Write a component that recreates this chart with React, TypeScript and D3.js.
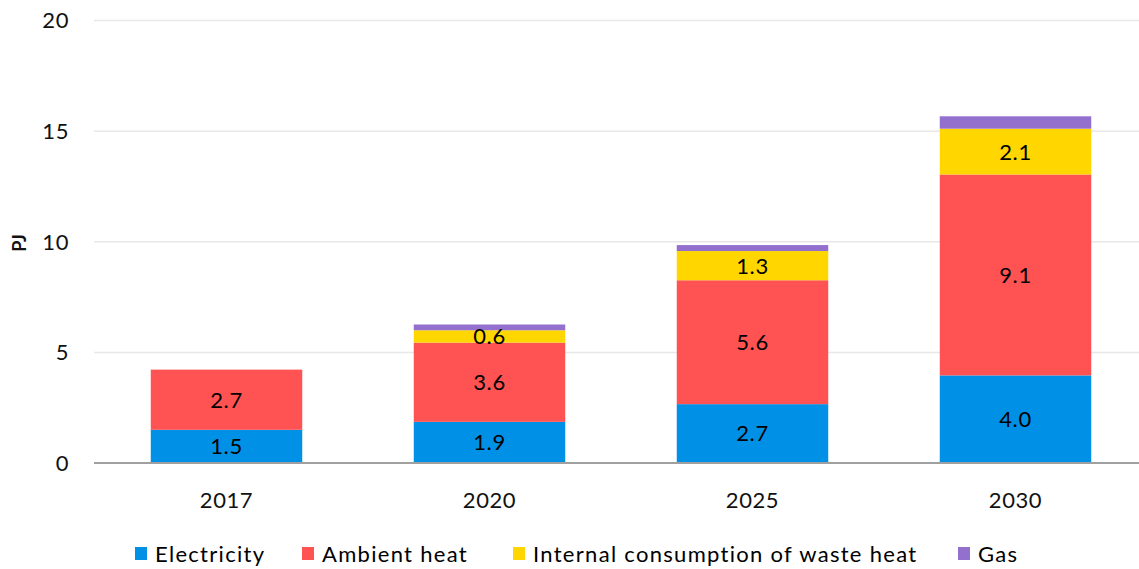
import React from "react";
import * as d3 from "d3";

const years = ["2017", "2020", "2025", "2030"];
const seriesNames = ["Electricity", "Ambient heat", "Internal consumption of waste heat", "Gas"];
const electricity = [1.5, 1.86, 2.66, 3.96];
const ambientHeat = [2.72, 3.58, 5.6, 9.08];
const wasteHeat = [0, 0.56, 1.32, 2.07];
const gas = [0, 0.26, 0.27, 0.56];
const colors = ["#0091E6", "#FF5252", "#FFD600", "#9370CD"];
const yTicks = [0, 5, 10, 15, 20];
const labelSeries = [true, true, true, false];

const W = 1139;
const H = 569;
const FONT = "Lato, 'Open Sans', sans-serif";

export default function App() {
  const rows = years.map((y, i) => ({
    year: y,
    Electricity: electricity[i],
    "Ambient heat": ambientHeat[i],
    "Internal consumption of waste heat": wasteHeat[i],
    Gas: gas[i],
  }));
  const stack = d3.stack<any>().keys(seriesNames)(rows);
  const x = d3.scaleBand().domain(years).range([95, 1147]).paddingInner(0.424).paddingOuter(0.212);
  const y = d3.scaleLinear().domain([0, 20]).range([463, 20.5]);
  const legendX = [135, 302, 513, 958];

  return (
    <svg width={W} height={H} style={{ position: "absolute", left: 0, top: 0, fontFamily: FONT }}>
      <rect width={W} height={H} fill="#fff" />
      {yTicks.map((t) => (
        <g key={t}>
          {t > 0 && <line x1={94} x2={W} y1={y(t)} y2={y(t)} stroke="#E8E8E8" strokeWidth={1.5} />}
          <text x={69} y={y(t)} dy="0.36em" textAnchor="end" fontSize={22} letterSpacing={0.6} fill="#111">{t}</text>
        </g>
      ))}
      {stack.map((s, si) =>
        s.map((d, i) => {
          const h = y(d[0]) - y(d[1]);
          if (h <= 0) return null;
          return (
            <rect key={si + "-" + i} x={x(years[i])} width={x.bandwidth()} y={y(d[1])} height={h} fill={colors[si]} />
          );
        })
      )}
      {stack.map((s, si) =>
        labelSeries[si]
          ? s.map((d, i) => {
              const v = d[1] - d[0];
              if (v <= 0) return null;
              return (
                <text key={"l" + si + "-" + i} x={(x(years[i]) as number) + x.bandwidth() / 2} y={(y(d[0]) + y(d[1])) / 2} dy="0.36em" textAnchor="middle" fontSize={22} letterSpacing={0.6} fill="#000">
                  {v.toFixed(1)}
                </text>
              );
            })
          : null
      )}
      <line x1={94} x2={W} y1={y(0)} y2={y(0)} stroke="#A0A0A0" strokeWidth={2} />
      {years.map((yr) => (
        <text key={yr} x={(x(yr) as number) + x.bandwidth() / 2} y={500} dy="0.36em" textAnchor="middle" fontSize={22} letterSpacing={0.6} fill="#111">{yr}</text>
      ))}
      <text transform={`translate(20,243) rotate(-90)`} textAnchor="middle" dy="0.36em" fontSize={18} fontWeight="bold" fill="#111">PJ</text>
      {seriesNames.map((n, i) => (
        <g key={n}>
          <rect x={legendX[i]} y={547} width={12} height={13} fill={colors[i]} />
          <text x={legendX[i] + 20} y={554} dy="0.36em" fontSize={22} letterSpacing={1.3} fill="#000">{n}</text>
        </g>
      ))}
    </svg>
  );
}
